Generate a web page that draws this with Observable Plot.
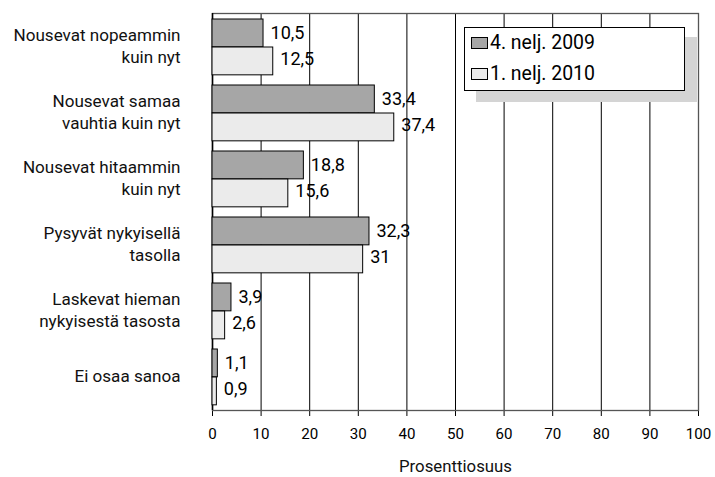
<!DOCTYPE html>
<html>
<head>
<meta charset="utf-8">
<script src="https://cdn.jsdelivr.net/npm/d3@7"></script>
<script src="https://cdn.jsdelivr.net/npm/@observablehq/plot@0.6"></script>
<style>
  html, body { margin: 0; padding: 0; background: #fff; }
  #wrap { position: relative; width: 715px; height: 477px; }
  .legend-shadow { position: absolute; left: 476px; top: 37px; width: 221px; height: 65px; background: #d4d4d4; }
  .legend { position: absolute; left: 464px; top: 27px; width: 219px; height: 62px; background: #fff; border: 1px solid #000; }
  .legend .item { position: absolute; left: 6px; display: flex; align-items: center; color: #000; white-space: nowrap; }
  .legend .sw { width: 17px; height: 12px; border: 1px solid #000; margin-right: 2px; box-sizing: border-box; }
</style>
</head>
<body>
<div id="wrap"></div>
<script>
// ---- data ----
const categories = [
  "Nousevat nopeammin\nkuin nyt",
  "Nousevat samaa\nvauhtia kuin nyt",
  "Nousevat hitaammin\nkuin nyt",
  "Pysyvät nykyisellä\ntasolla",
  "Laskevat hieman\nnykyisestä tasosta",
  "Ei osaa sanoa"
];
const seriesNames = ["4. nelj. 2009", "1. nelj. 2010"];
const q4_2009 = [10.5, 33.4, 18.8, 32.3, 3.9, 1.1];
const q1_2010 = [12.5, 37.4, 15.6, 31, 2.6, 0.9];
const xTicks = [0, 10, 20, 30, 40, 50, 60, 70, 80, 90, 100];
const axisTitle = "Prosenttiosuus";
const colors = ["#a6a6a6", "#ebebeb"];

// font: Roboto if installed, sized so that text widths match the original
const ctx = document.createElement("canvas").getContext("2d");
const widthOf = (font, s) => { ctx.font = font; return ctx.measureText(s).width; };
const robotoOK = Math.abs(widthOf('40px Roboto, monospace', "Nousevat nopeammin") - widthOf('40px monospace', "Nousevat nopeammin")) > 0.5;
const fam = robotoOK ? 'Roboto' : '"Liberation Sans"';
const family = fam + ', Arial, sans-serif';
const sizeFor = (s, target) => +(100 * target / widthOf('100px ' + family, s)).toFixed(2);
const fs = {
  cat: sizeFor("Nousevat nopeammin", 167),
  val: sizeFor("10,5", 34),
  tick: sizeFor("20", 17),
  legend: sizeFor("4. nelj. 2009", 105),
  title: sizeFor("Prosenttiosuus", 113)
};

const dark = categories.map((c, i) => ({cat: c, series: seriesNames[0], value: q4_2009[i]}));
const light = categories.map((c, i) => ({cat: c, series: seriesNames[1], value: q1_2010[i]}));
const fmt = v => String(v).replace(".", ",");

const marginTop = 13, marginBottom = 67;
const band = (477 - marginTop - marginBottom) / categories.length;
const barH = 28, outer = 5;

const chart = Plot.plot({
  width: 715,
  height: 477,
  marginLeft: 212,
  marginRight: 17,
  marginTop,
  marginBottom,
  style: {fontFamily: family, fontSize: fs.tick + "px", color: "#000", background: "transparent"},
  x: {domain: [0, 100], ticks: xTicks, tickSize: 6, tickPadding: 12, label: null},
  y: {domain: categories, axis: null, padding: 0},
  marks: [
    Plot.ruleX(xTicks, {stroke: "#000", strokeWidth: 1}),
    Plot.frame({stroke: "#555", strokeWidth: 1.3}),
    Plot.ruleX([0], {stroke: "#000", strokeWidth: 1.5}),
    Plot.barX(dark, {x: "value", y: "cat", fill: colors[0], stroke: "#000", strokeWidth: 1,
      insetTop: outer, insetBottom: band - outer - barH}),
    Plot.barX(light, {x: "value", y: "cat", fill: colors[1], stroke: "#000", strokeWidth: 1,
      insetTop: outer + barH, insetBottom: band - outer - 2 * barH}),
    Plot.text(dark, {x: "value", y: "cat", text: d => fmt(d.value), dx: 7, dy: -14, textAnchor: "start", fill: "#000", fontSize: fs.val}),
    Plot.text(light, {x: "value", y: "cat", text: d => fmt(d.value), dx: 7, dy: 12, textAnchor: "start", fill: "#000", fontSize: fs.val}),
    Plot.text(categories, {y: d => d, text: d => d, frameAnchor: "left", dx: -32, dy: -3, textAnchor: "end", lineHeight: 1.3, fill: "#111", fontSize: fs.cat}),
    Plot.text([axisTitle], {text: d => d, frameAnchor: "bottom", dy: 61, fill: "#111", fontSize: fs.title})
  ]
});

const wrap = document.getElementById("wrap");
wrap.style.fontFamily = family;
wrap.appendChild(chart);

// legend
const shadow = document.createElement("div");
shadow.className = "legend-shadow";
wrap.appendChild(shadow);
const legend = document.createElement("div");
legend.className = "legend";
seriesNames.forEach((name, i) => {
  const item = document.createElement("div");
  item.className = "item";
  item.style.top = (i === 0 ? 3 : 34) + "px";
  item.style.fontSize = fs.legend + "px";
  const sw = document.createElement("span");
  sw.className = "sw";
  sw.style.background = colors[i];
  const t = document.createElement("span");
  t.textContent = name;
  item.appendChild(sw);
  item.appendChild(t);
  legend.appendChild(item);
});
wrap.appendChild(legend);
</script>
</body>
</html>
